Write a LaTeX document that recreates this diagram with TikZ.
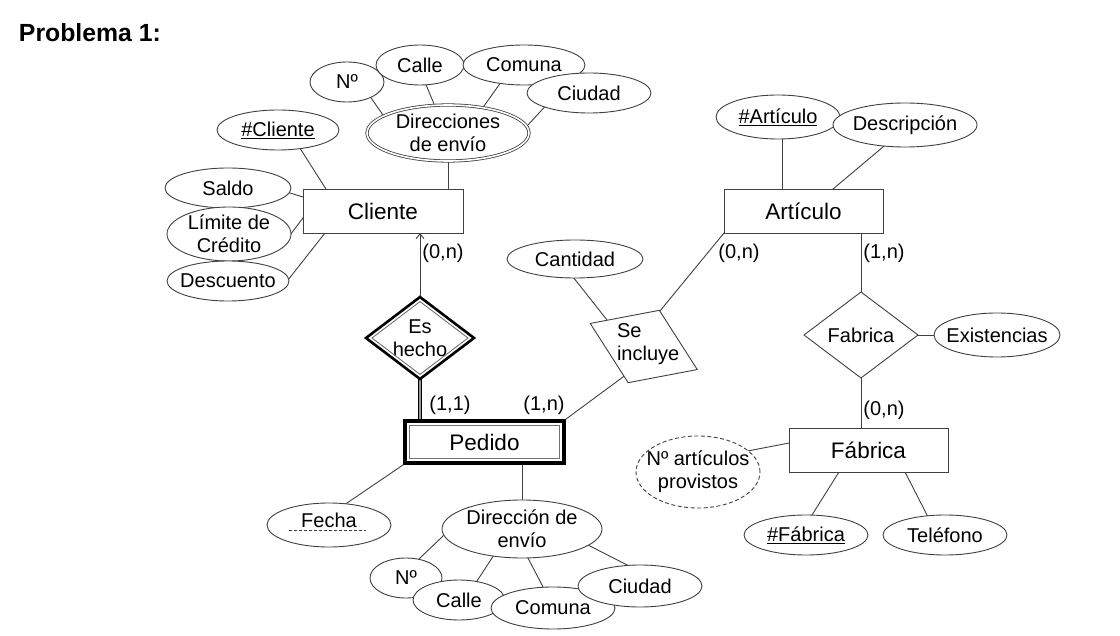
\documentclass[tikz,border=0pt]{standalone}
\usepackage{fontspec}
\setmainfont{Liberation Sans}
\usetikzlibrary{shapes.geometric,calc,backgrounds,arrows.meta}
\begin{document}
\begin{tikzpicture}[x=1pt,y=-1pt,
  every node/.style={inner sep=0pt, outer sep=0pt, font=\fontsize{20}{23}\selectfont},
  every label/.style={align=center},
  sz/.style 2 args={minimum width=#1, minimum height=#2},
  stroke/.style={draw=black!75, line width=0.9pt},
  attr/.style={ellipse, stroke, fill=white},
  ent/.style={rectangle, stroke, fill=white, font=\fontsize{22.5}{26}\selectfont},
  rel/.style={diamond, stroke, fill=white},
  conn/.style={draw=black!75, line width=0.9pt}
]
\useasboundingbox (0,0) rectangle (1120,636);

\node[font=\bfseries\fontsize{24.8}{28}\selectfont, anchor=west] (title) at (19,33) {Problema 1:};

% Cliente cluster
\node[attr, sz={74pt}{40pt}, label={center:Nº}] (tN) at (347,82) {};
\node[attr, sz={88pt}{40pt}, label={center:Calle}] (tCalle) at (420,65) {};
\node[attr, sz={122pt}{40pt}, label={center:Comuna}] (tComuna) at (524,65) {};
\node[attr, sz={124pt}{40pt}, label={center:Ciudad}] (tCiudad) at (589,93) {};
\node[attr, double, double distance=1.6pt, line width=0.8pt, sz={162pt}{56pt}, label={center:Direcciones\\de envío}] (dirs) at (448,133) {};
\node[attr, sz={122pt}{40pt}, label={center:\underline{\#Cliente}}] (clid) at (278,130) {};
\node[attr, sz={126pt}{40pt}, label={center:Saldo}] (saldo) at (228,188) {};
\node[attr, sz={124pt}{54pt}, label={center:Límite de\\Crédito}] (limite) at (229,234) {};
\node[attr, sz={122pt}{40pt}, label={center:Descuento}] (desc) at (228,281) {};
\node[ent, sz={160pt}{44pt}] (cliente) at (383,211) {Cliente};

% Es hecho
\node[rel, draw=black, line width=2.6pt, sz={108pt}{82pt}, label={center:Es\\hecho}] (eshecho) at (420,338) {};
\draw[black!55, line width=0.9pt] ($(eshecho.north)+(0,4.6)$) -- ($(eshecho.east)+(-6,0)$) -- ($(eshecho.south)+(0,-4.6)$) -- ($(eshecho.west)+(6,0)$) -- cycle;

% Pedido
\node[ent, draw=black, line width=3.4pt, sz={159pt}{42pt}] (pedido) at (484.5,442) {Pedido};
\draw[black!55, line width=1pt] ($(pedido.north west)+(4.2,4.2)$) rectangle ($(pedido.south east)+(-4.2,-4.2)$);

% Se incluye
\node[rel, sz={116.5pt}{78.8pt}, rotate=-23.3] (seinc) at (643.75,346.5) {};
\node[align=left, anchor=west] (seinctxt) at (617,344) {Se\\incluye};
\node[attr, sz={136pt}{38pt}, label={center:Cantidad}] (cant) at (575,259) {};

% Articulo
\node[attr, sz={124pt}{44pt}, label={center:\underline{\#Artículo}}] (artid) at (778,117) {};
\node[attr, sz={144pt}{44pt}, label={center:Descripción}] (descr) at (905,125) {};
\node[ent, sz={159pt}{44pt}] (art) at (803.5,211) {Artículo};

% Fabrica
\node[rel, sz={114pt}{86pt}, label={center:Fabrica}] (fab) at (861,335) {};
\node[attr, sz={126pt}{44pt}, label={center:Existencias}] (exist) at (997,335) {};
\node[ent, sz={159pt}{44pt}] (fabr) at (868.5,450) {Fábrica};
\node[attr, dash pattern=on 4pt off 2.5pt, sz={124pt}{72pt}, label={center:Nº artículos\\provistos}] (nart) at (698,472) {};
\node[attr, sz={124pt}{40pt}, label={center:\underline{\#Fábrica}}] (fabid) at (806,535) {};
\node[attr, sz={124pt}{40pt}, label={center:Teléfono}] (tel) at (945,535) {};

% Pedido attributes
\node[attr, sz={124pt}{44pt}, label={[yshift=5pt]center:Fecha}] (fecha) at (329,525) {};
\draw[conn, dash pattern=on 3pt off 2pt] ($(fecha)+(-40,5)$) -- ($(fecha)+(37,5)$);
\node[attr, sz={160pt}{58pt}, label={center:Dirección de\\envío}] (dir) at (522,529) {};
\node[attr, sz={72pt}{40pt}, label={center:Nº}] (bN) at (406,578) {};
\node[attr, sz={92pt}{40pt}, label={center:Calle}] (bCalle) at (459,600) {};
\node[attr, sz={124pt}{42pt}, label={center:Comuna}] (bComuna) at (553,608) {};
\node[attr, sz={124pt}{42pt}, label={center:Ciudad}] (bCiudad) at (640,586) {};

% cardinalities
\node (k1) at (443,253) {(0,n)};
\node (k2) at (450,405) {(1,1)};
\node (k3) at (544,405) {(1,n)};
\node (k4) at (739,253) {(0,n)};
\node (k5) at (884,253) {(1,n)};
\node (k6) at (884,410) {(0,n)};

\begin{scope}[on background layer]
\draw[conn] ($(clid)+(21.8,17.9)$) -- ($(cliente)+(-53.8,-16.9)$);
\draw[conn] ($(saldo)+(56.3,3.2)$) -- ($(cliente)+(-74.3,-12.2)$);
\draw[conn] ($(limite)+(57.4,5.8)$) -- ($(cliente)+(-76.4,2.2)$);
\draw[conn] ($(desc)+(56.3,3.7)$) -- ($(cliente)+(-54.3,17.3)$);
\draw[conn] (dirs.south) -- (dirs.south |- cliente.north);
\draw[conn] ($(tN)+(18.6,8.1)$) -- ($(dirs)+(-61.6,-13.1)$);
\draw[conn] ($(tCalle)+(4.7,16.5)$) -- ($(dirs)+(-11.7,-23.5)$);
\draw[conn] ($(tComuna)+(-21.5,15.1)$) -- ($(dirs)+(32.5,-22.1)$);
\draw[conn] ($(tCiudad)+(-40.9,10.2)$) -- ($(dirs)+(75.9,-3.6)$);
\draw[conn, -{Straight Barb[length=5pt,width=8pt]}] (eshecho.north) -- (eshecho.north |- cliente.south);
\draw[black, line width=1pt, double=black!40, double distance=1.6pt] (eshecho.south) -- (eshecho.south |- pedido.north);
\draw[conn] ($(cant)+(-5.7,13.3)$) -- ($(seinc)+(-33,-21.8)$);
\draw[conn] ($(art)+(-75.7,17.4)$) -- ($(seinc)+(12.4,-30.9)$);
\draw[conn] ($(seinc)+(-15.9,26.9)$) -- ($(pedido)+(76.7,-19.4)$);
\draw[conn] ($(artid)+(4,16)$) -- ($(art)+(-21.5,-16)$);
\draw[conn] ($(descr)+(-17.4,18.1)$) -- ($(art)+(24.9,-18.1)$);
\draw[conn] (fab.north |- art.south) -- (fab.north);
\draw[conn] (fab.east) -- (exist.west);
\draw[conn] (fab.south) -- (fab.south |- fabr.north);
\draw[conn] ($(nart)+(49.1,-20.9)$) -- ($(fabr)+(-73.6,-8.1)$);
\draw[conn] ($(fabr)+(-26.3,16.9)$) -- ($(fabid)+(2.8,-14.9)$);
\draw[conn] ($(fabr)+(33.8,16.7)$) -- ($(tel)+(-15.3,-14.7)$);
\draw[conn] ($(fecha)+(13,-18.6)$) -- ($(pedido)+(-76.5,19.6)$);
\draw[conn] (dir.north |- pedido.south) -- (dir.north);
\draw[conn] ($(dir)+(-75.7,3.9)$) -- ($(bN)+(9.7,-15.9)$);
\draw[conn] ($(dir)+(-26.7,24)$) -- ($(bCalle)+(14.7,-14)$);
\draw[conn] ($(dir)+(3.2,23.7)$) -- ($(bComuna)+(-7.2,-15.7)$);
\draw[conn] ($(dir)+(60.7,13.3)$) -- ($(bCiudad)+(-5.7,-17.3)$);
\end{scope}
\end{tikzpicture}
\end{document}
